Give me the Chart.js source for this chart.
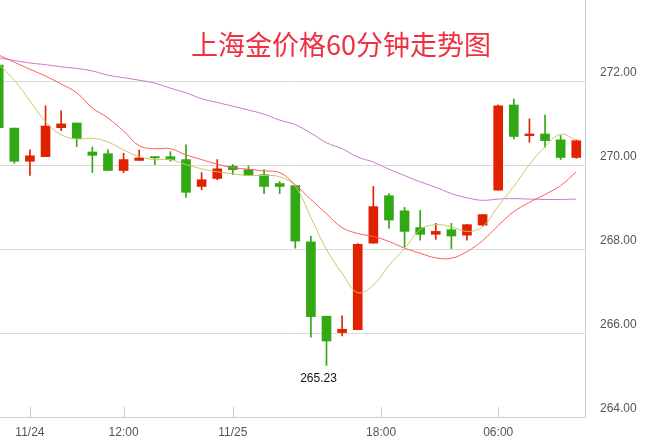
<!DOCTYPE html>
<html>
<head>
<meta charset="utf-8">
<script src="https://cdn.jsdelivr.net/npm/chart.js@4"></script>
<style>
  html, body { margin: 0; padding: 0; background: #fff; }
  #wrap { width: 656px; height: 441px; position: relative; }
</style>
</head>
<body>
<div id="wrap"><canvas id="goldChart"></canvas></div>
<script>
// 60-minute candles
const candleOpen  = [272.38, 270.88, 270.09, 270.20, 270.89, 271.00, 270.31, 270.27, 269.87, 270.11,
                     270.20, 270.20, 270.13, 269.49, 269.68, 269.97, 269.89, 269.77, 269.56, 269.51,
                     268.17, 266.40, 266.01, 266.08, 268.14, 269.27, 268.91, 268.51, 268.35, 268.46,
                     268.33, 268.57, 269.40, 271.43, 270.70, 270.74, 270.60, 270.18];
const candleHigh  = [272.38, 270.88, 270.36, 271.41, 271.29, 271.00, 270.43, 270.36, 270.28, 270.36,
                     270.20, 270.32, 270.48, 269.82, 270.13, 270.01, 269.98, 269.89, 269.61, 269.51,
                     268.31, 266.40, 266.41, 268.13, 269.49, 269.32, 268.99, 268.92, 268.61, 268.61,
                     268.58, 268.82, 271.43, 271.57, 271.10, 271.19, 270.70, 270.60];
const candleLow   = [270.89, 270.04, 269.75, 270.20, 270.82, 270.44, 269.82, 269.87, 269.82, 270.11,
                     270.01, 270.09, 269.23, 269.41, 269.65, 269.77, 269.75, 269.32, 269.32, 268.02,
                     265.90, 265.23, 265.93, 266.08, 268.14, 268.49, 268.05, 268.21, 268.23, 268.01,
                     268.21, 268.55, 269.40, 270.62, 270.54, 270.42, 270.13, 270.16];
const candleClose = [270.89, 270.09, 270.22, 270.93, 270.98, 270.63, 270.23, 269.87, 270.13, 270.17,
                     270.17, 270.13, 269.35, 269.65, 269.91, 269.89, 269.75, 269.49, 269.49, 268.19,
                     266.39, 265.81, 266.09, 268.11, 269.01, 268.69, 268.42, 268.35, 268.42, 268.31,
                     268.58, 268.82, 271.41, 270.68, 270.74, 270.58, 270.18, 270.58];

// moving average lines
const maShort = [272.40, 272.02, 271.53, 271.03, 270.72, 270.62, 270.64, 270.55, 270.36, 270.20,
                 270.13, 270.13, 270.01, 269.91, 269.84, 269.79, 269.75, 269.75, 269.72, 269.49,
                 268.75, 267.99, 267.42, 266.96, 267.14, 267.61, 268.01, 268.46, 268.58, 268.53,
                 268.42, 268.53, 269.02, 269.49, 270.01, 270.44, 270.73, 270.59];
const maMid   = [272.62, 272.45, 272.28, 272.12, 271.93, 271.72, 271.36, 271.12, 270.81, 270.46,
                 270.39, 270.39, 270.24, 270.13, 270.02, 269.94, 269.90, 269.86, 269.82, 269.53,
                 269.18, 268.84, 268.51, 268.37, 268.30, 268.18, 268.02, 267.90, 267.79, 267.78,
                 267.94, 268.20, 268.56, 268.89, 269.11, 269.30, 269.51, 269.84];
const maLong  = [272.55, 272.49, 272.43, 272.39, 272.34, 272.30, 272.24, 272.14, 272.08, 272.02,
                 271.95, 271.83, 271.72, 271.58, 271.49, 271.40, 271.31, 271.21, 271.07, 270.96,
                 270.76, 270.53, 270.39, 270.19, 270.07, 269.90, 269.75, 269.60, 269.47, 269.32,
                 269.22, 269.16, 269.19, 269.20, 269.19, 269.18, 269.18, 269.19];

// axis ticks (x given as candle index)
const xTickIndex  = [2, 8, 15, 24.5, 32];
const xTickLabels = ['11/24', '12:00', '11/25', '18:00', '06:00'];
const yTicks      = [264, 266, 268, 270, 272];

const chartTitle = '上海金价格60分钟走势图';
const UP = '#e02200', DOWN = '#33a815';
const AXIS = '#c6d0db';

const idx = candleOpen.map((_, i) => i);
const candleColor = idx.map(i => candleClose[i] >= candleOpen[i] ? UP : DOWN);
const lowIndex = candleLow.indexOf(Math.min(...candleLow));

function lineSet(values, color) {
  return {
    type: 'line',
    data: values.map((v, i) => ({ x: i, y: v })),
    borderColor: color,
    borderWidth: 1,
    pointRadius: 0,
    tension: 0.4,
    fill: false
  };
}

function noPad(s) {
  s.paddingTop = 0;
  s.paddingBottom = 0;
  s.paddingLeft = 0;
  s.paddingRight = 0;
}

// tick marks inside the plot, title and lowest price label
const overlay = {
  id: 'overlay',
  afterDraw(chart) {
    const { ctx, chartArea, scales } = chart;
    ctx.save();
    ctx.strokeStyle = AXIS;
    ctx.lineWidth = 1;
    xTickIndex.forEach(v => {
      const px = Math.round(scales.x.getPixelForValue(v)) + 0.5;
      ctx.beginPath();
      ctx.moveTo(px, chartArea.bottom - 10);
      ctx.lineTo(px, chartArea.bottom);
      ctx.stroke();
    });

    ctx.fillStyle = '#ef3040';
    ctx.font = '27px "Noto Sans CJK SC"';
    ctx.textAlign = 'center';
    ctx.textBaseline = 'middle';
    ctx.fillText(chartTitle, 341, 45);

    const lx = scales.x.getPixelForValue(lowIndex) - 8;
    const ly = scales.y.getPixelForValue(candleLow[lowIndex]) + 7;
    ctx.fillStyle = '#111';
    ctx.font = '12px "Liberation Sans", Arial';
    ctx.textBaseline = 'top';
    ctx.fillText(candleLow[lowIndex].toFixed(2), lx, ly);
    ctx.restore();
  }
};

new Chart(document.getElementById('goldChart'), {
  type: 'bar',
  data: {
    datasets: [
      lineSet(maShort, '#ccc56a'),
      lineSet(maMid, '#ff5c5c'),
      lineSet(maLong, '#cc77cc'),
      {
        data: idx.map(i => ({ x: i, y: [candleOpen[i], candleClose[i]] })),
        backgroundColor: candleColor,
        barThickness: 9,
        minBarLength: 1,
        grouped: false
      },
      {
        data: idx.map(i => ({ x: i, y: [candleLow[i], candleHigh[i]] })),
        backgroundColor: candleColor,
        barThickness: 1,
        grouped: false
      }
    ]
  },
  options: {
    responsive: true,
    maintainAspectRatio: false,
    animation: false,
    layout: { padding: 0 },
    plugins: { legend: { display: false }, tooltip: { enabled: false } },
    scales: {
      x: {
        type: 'linear',
        offset: false,
        min: 0.083,
        max: 37.56,
        afterBuildTicks: s => { s.ticks = xTickIndex.map(v => ({ value: v })); },
        afterFit: s => { s.height = 24; noPad(s); },
        grid: { offset: false, drawOnChartArea: false, drawTicks: false },
        border: { color: AXIS },
        ticks: {
          autoSkip: false,
          maxRotation: 0,
          padding: 8,
          color: '#555',
          font: { family: '"Liberation Sans", Arial', size: 12 },
          callback: v => xTickLabels[xTickIndex.indexOf(v)]
        }
      },
      y: {
        position: 'right',
        min: 264,
        max: 273.93,
        afterBuildTicks: s => { s.ticks = yTicks.map(v => ({ value: v })); },
        afterFit: s => { s.width = 71; noPad(s); },
        grid: { color: '#dadada', drawTicks: false },
        border: { color: AXIS },
        ticks: {
          padding: 15,
          labelOffset: -8,
          color: '#555',
          font: { family: '"Liberation Sans", Arial', size: 12 },
          callback: v => v.toFixed(2)
        }
      }
    }
  },
  plugins: [overlay]
});
</script>
</body>
</html>
